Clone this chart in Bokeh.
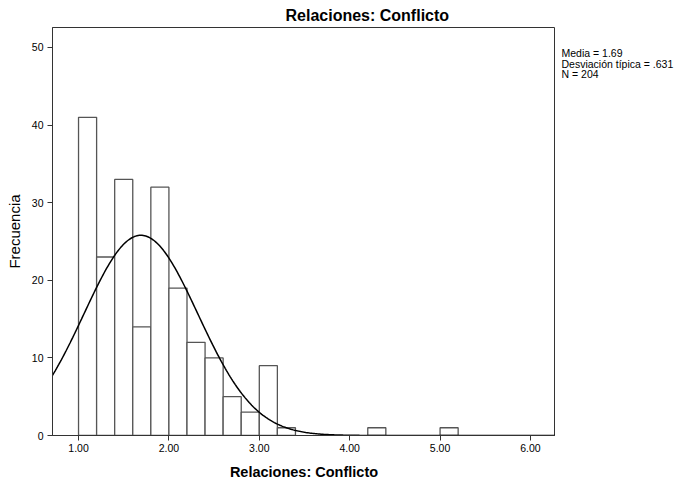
import numpy as np
from bokeh.plotting import figure
from bokeh.layouts import row
from bokeh.models import Range1d, FixedTicker, CustomJSTickFormatter, Label
from bokeh.embed import file_html
from bokeh.resources import INLINE

# ---- data ----
bin_left = [1.0, 1.2, 1.4, 1.6, 1.8, 2.0, 2.2, 2.4, 2.6, 2.8, 3.0, 3.2, 4.2, 5.0]
counts = [41, 23, 33, 14, 32, 19, 12, 10, 5, 3, 9, 1, 1, 1]
bin_width = 0.2
media = 1.69
desv = 0.631
n_total = 204
x_ticks = [1, 2, 3, 4, 5, 6]
y_ticks = [0, 10, 20, 30, 40, 50]
stats_lines = ["Media = 1.69", "Desviación típica = .631", "N = 204"]

FONT = "Liberation Sans"
X0, X1 = 0.712, 6.277
Y0, Y1 = 0.0, 52.57
H = 482
TOP, BOTTOM = 27, 46

p = figure(width=555, height=H, output_backend="svg", toolbar_location=None,
           x_range=Range1d(X0, X1), y_range=Range1d(Y0, Y1),
           min_border_left=52, min_border_right=0, min_border_top=TOP, min_border_bottom=BOTTOM)

p.title.text = "Relaciones: Conflicto"
p.title.align = "left"
p.title.offset = 233
p.title.text_font = FONT
p.title.text_font_size = "16px"
p.title.text_font_style = "bold"
p.title.text_color = "#000000"
p.title.standoff = 7

p.grid.visible = False
p.outline_line_color = "#333333"
p.outline_line_width = 1
p.background_fill_color = "white"
p.border_fill_color = "white"

for ax in (p.xaxis[0], p.yaxis[0]):
    ax.axis_line_color = "#333333"
    ax.major_tick_line_color = "#333333"
    ax.minor_tick_line_color = None
    ax.major_tick_in = 0
    ax.major_tick_out = 5
    ax.major_label_text_font = FONT
    ax.major_label_text_font_size = "10.5px"
    ax.major_label_text_color = "#000000"
    ax.axis_label_text_font = FONT
    ax.axis_label_text_color = "#000000"

p.xaxis.ticker = FixedTicker(ticks=x_ticks)
p.xaxis.formatter = CustomJSTickFormatter(code="return tick.toFixed(2);")
p.xaxis.axis_label = "Relaciones: Conflicto"
p.xaxis.axis_label_text_font_size = "14.5px"
p.xaxis.axis_label_text_font_style = "bold"
p.xaxis.major_label_standoff = 3
p.xaxis.axis_label_standoff = 9

p.yaxis.ticker = FixedTicker(ticks=y_ticks)
p.yaxis.axis_label = "Frecuencia"
p.yaxis.axis_label_text_font_size = "15px"
p.yaxis.axis_label_text_font_style = "normal"
p.yaxis.major_label_standoff = 4
p.yaxis.axis_label_standoff = 6

lefts = np.array(bin_left)
p.quad(left=lefts, right=lefts + bin_width, bottom=0, top=counts,
       fill_color="white", line_color="#555555", line_width=1.3)

xs = np.linspace(X0, X1, 400)
ys = n_total * bin_width * np.exp(-0.5 * ((xs - media) / desv) ** 2) / (desv * np.sqrt(2 * np.pi))
p.line(xs, ys, line_color="#000000", line_width=1.5)

# side panel with the statistics text (its y units are page pixels from the top)
W2 = 119
p2 = figure(width=W2, height=H, output_backend="svg", toolbar_location=None, title=None,
            x_axis_location=None, y_axis_location=None,
            x_range=Range1d(0, W2), y_range=Range1d(H - BOTTOM, TOP),
            min_border_left=0, min_border_right=0, min_border_top=TOP, min_border_bottom=BOTTOM,
            outline_line_color=None)
p2.grid.visible = False
for i, t in enumerate(stats_lines):
    p2.add_layout(Label(x=6, y=47 + 10.5 * i, text=t,
                        text_font=FONT, text_font_size="10.5px", text_color="#000000",
                        text_baseline="top", text_align="left"))

layout = row(p, p2, spacing=0)
open("out.html", "w").write(file_html(layout, INLINE))
